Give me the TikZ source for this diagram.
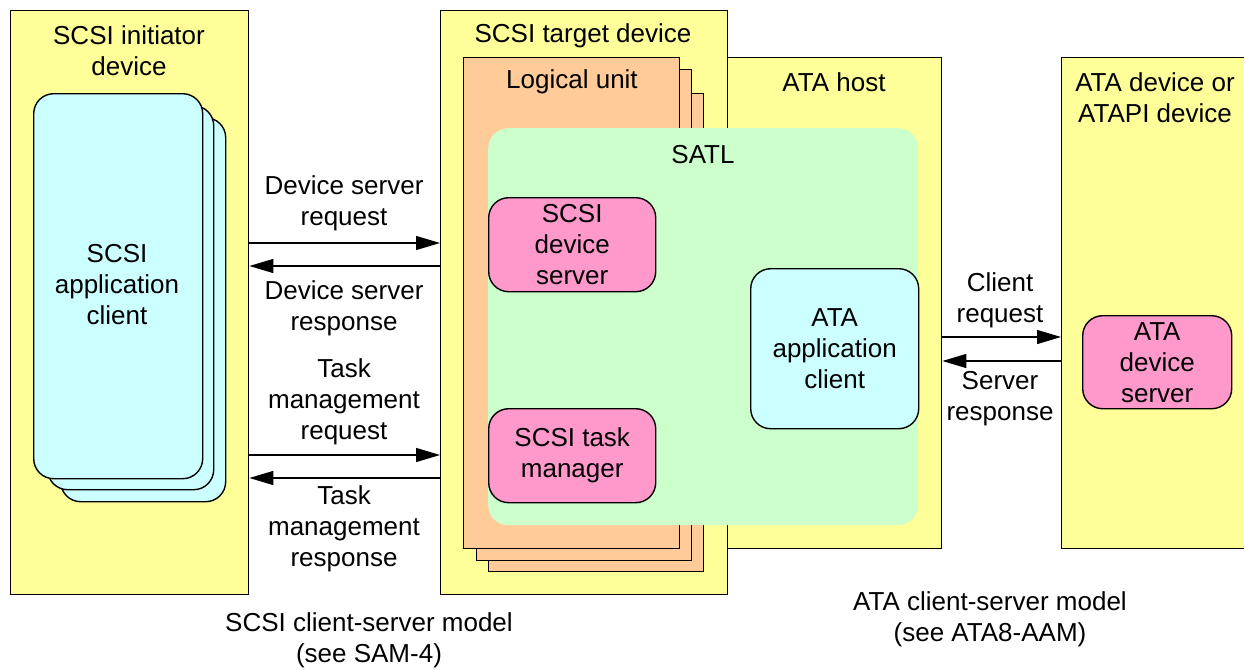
\documentclass[tikz,border=0pt]{standalone}
\usepackage{fontspec}
\setmainfont{Liberation Sans}
\usetikzlibrary{arrows.meta}
\definecolor{devyellow}{HTML}{FFFF99}
\definecolor{appcyan}{HTML}{CCFFFF}
\definecolor{luorange}{HTML}{FFCC99}
\definecolor{satlgreen}{HTML}{CCFFCC}
\definecolor{srvpink}{HTML}{FF99CC}
\tikzset{
  box/.style={draw, line width=1.4pt, anchor=north west, inner sep=0pt},
  devbox/.style={box, fill=devyellow},
  lubox/.style={box, fill=luorange},
  appbox/.style={box, fill=appcyan, rounded corners=20pt},
  srvbox/.style={box, fill=srvpink, rounded corners=20pt},
  txt/.style={align=center, inner sep=0pt},
  arr/.style={line width=1.4pt, -{Triangle[length=24pt,width=14pt]}}
}
\begin{document}
\begin{tikzpicture}[x=1pt, y=-1pt, font=\fontsize{26}{31}\selectfont]
  \useasboundingbox (0,0) rectangle (1244,669);
  % devices
  \node[devbox, minimum width=238pt, minimum height=584pt] (init) at (10,10) {};
  \node[devbox, minimum width=287pt, minimum height=584pt] (target) at (440,10) {};
  \node[devbox, minimum width=214pt, minimum height=491pt] (host) at (727,57) {};
  \node[devbox, minimum width=200pt, minimum height=491pt] (atadev) at (1061,57) {};
  \node[txt] (initlbl) at (129,51) {SCSI initiator\\device};
  \node[txt] (targetlbl) at (583,36) {SCSI target device};
  \node[txt] (hostlbl) at (834,82) {ATA host};
  \node[txt] (atadevlbl) at (1155,98) {ATA device or\\ATAPI device};
  % application client stack
  \node[appbox, minimum width=165pt, minimum height=384pt] (app3) at (60,117) {};
  \node[appbox, minimum width=166pt, minimum height=384pt] (app2) at (47,105) {};
  \node[appbox, minimum width=169pt, minimum height=385pt] (app1) at (33,93) {};
  \node[txt] (applbl) at (117,285) {SCSI\\application\\client};
  % logical unit stack
  \node[lubox, minimum width=215pt, minimum height=478pt] (lu3) at (488,93) {};
  \node[lubox, minimum width=215pt, minimum height=491pt] (lu2) at (476,69) {};
  \node[lubox, minimum width=216pt, minimum height=491pt] (lu1) at (463,57) {};
  \node[txt] (lulbl) at (572,82) {Logical unit};
  % SATL
  \node[anchor=north west, inner sep=0pt, fill=satlgreen, rounded corners=20pt,
    minimum width=430pt, minimum height=397pt] (satl) at (488,128) {};
  \node[txt] (satllbl) at (703,155) {SATL};
  \node[srvbox, minimum width=167pt, minimum height=94pt] (devsrv) at (488,197) {};
  \node[txt] at (devsrv) {SCSI\\device\\server};
  \node[srvbox, minimum width=167pt, minimum height=94pt] (taskmgr) at (488,408) {};
  \node[txt] at (taskmgr) {SCSI task\\manager};
  \node[appbox, minimum width=168pt, minimum height=160pt] (ataapp) at (750,268) {};
  \node[txt] at (ataapp) {ATA\\application\\client};
  \node[srvbox, minimum width=149pt, minimum height=93pt] (atasrv) at (1082,315) {};
  \node[txt] at (atasrv) {ATA\\device\\server};
  % requests and responses
  \coordinate (dsreq) at (0,243);
  \coordinate (dsrsp) at (0,266);
  \coordinate (tmreq) at (0,455);
  \coordinate (tmrsp) at (0,478);
  \coordinate (clreq) at (0,337);
  \coordinate (svrsp) at (0,361);
  \draw[arr] (init.east |- dsreq) -- (target.west |- dsreq);
  \draw[arr] (target.west |- dsrsp) -- (init.east |- dsrsp);
  \draw[arr] (init.east |- tmreq) -- (target.west |- tmreq);
  \draw[arr] (target.west |- tmrsp) -- (init.east |- tmrsp);
  \draw[arr] (host.east |- clreq) -- (atadev.west |- clreq);
  \draw[arr] (atadev.west |- svrsp) -- (host.east |- svrsp);
  \node[txt] (dsreqlbl) at (344,203) {Device server\\request};
  \node[txt] (dsrsplbl) at (344,308) {Device server\\response};
  \node[txt] (tmreqlbl) at (344,402) {Task\\management\\request};
  \node[txt] (tmrsplbl) at (344,529) {Task\\management\\response};
  \node[txt] (clreqlbl) at (1000,300) {Client\\request};
  \node[txt] (svrsplbl) at (1000,399) {Server\\response};
  % models
  \node[txt] (scsimodel) at (369,640) {SCSI client-server model\\(see SAM-4)};
  \node[txt] (atamodel) at (990,619) {ATA client-server model\\(see ATA8-AAM)};
\end{tikzpicture}
\end{document}
